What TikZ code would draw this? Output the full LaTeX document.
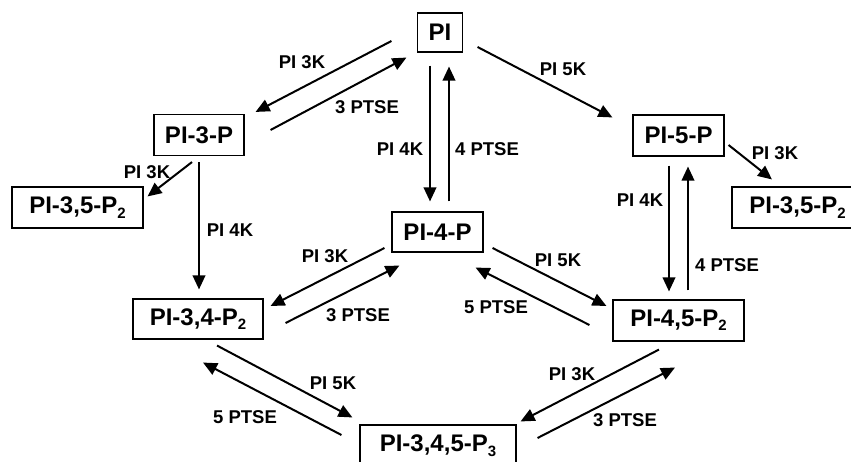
\documentclass[tikz,border=0pt]{standalone}
\usepackage{fontspec}
\setmainfont{Liberation Sans}
\usetikzlibrary{arrows.meta}

\newcommand{\sub}[1]{\raisebox{-0.35ex}{\fontsize{15}{15}\selectfont #1}}

\tikzset{
  lipid/.style={draw, line width=1.1pt, font=\fontsize{24}{26}\selectfont\bfseries,
    minimum height=41pt, inner sep=0pt},
  enz/.style={font=\fontsize{18.5}{20}\selectfont\bfseries, inner sep=1pt},
  rxn/.style={line width=2pt, -{Triangle[length=14pt,width=12.5pt]}},
}

\begin{document}
\begin{tikzpicture}[x=1pt, y=-1pt]
            \useasboundingbox (0,0) rectangle (851,462);
            % phosphoinositides
            \node[lipid, minimum width=45pt, minimum height=39pt] (pi) at (440,32.5) {PI};
            \node[lipid, minimum width=90pt] (pi3) at (199,135) {PI-3-P};
            \node[lipid, minimum width=91pt] (pi5) at (678.5,135.5) {PI-5-P};
            \node[lipid, minimum width=91pt, minimum height=40pt] (pi4) at (437.5,232) {PI-4-P};
            \node[lipid, minimum width=131pt] (pi35l) at (77.5,207.5) {PI-3,5-P\sub{2}};
            \node[lipid, minimum width=131pt] (pi35r) at (797.5,207.5) {PI-3,5-P\sub{2}};
            \node[lipid, minimum width=130pt, minimum height=40pt] (pi34) at (198,319) {PI-3,4-P\sub{2}};
            \node[lipid, minimum width=131pt] (pi45) at (678.5,320.5) {PI-4,5-P\sub{2}};
            \node[lipid, minimum width=156pt] (pi345) at (438,445.5) {PI-3,4,5-P\sub{3}};
            % kinases and phosphatases
            \draw[rxn] ([shift={(-25.5,8.5)}]pi.west) -- ([shift={(11,-2)}]pi3.north east);
            \draw[rxn] ([shift={(26,-5)}]pi3.east) -- ([shift={(-10.5,5)}]pi.south west);
            \draw[rxn] ([shift={(-10,13)}]pi.south) -- ([shift={(-7.5,-10)}]pi4.north);
            \draw[rxn] ([shift={(11.5,-10)}]pi4.north) -- ([shift={(9,14)}]pi.south);
            \draw[rxn] ([shift={(14.5,14.5)}]pi.east) -- ([shift={(-20,3)}]pi5.north west);
            \draw[rxn] ([shift={(-7,6)}]pi3.south) -- ([shift={(4,10)}]pi35l.north east);
            \draw[rxn] ([shift={(0,6)}]pi3.south) -- ([shift={(1,-9)}]pi34.north);
            \draw[rxn] ([shift={(4,9.5)}]pi5.east) -- ([shift={(-25.5,-7)}]pi35r.north);
            \draw[rxn] ([shift={(-9.5,9)}]pi5.south) -- ([shift={(-9.5,-8)}]pi45.north);
            \draw[rxn] ([shift={(9.5,-9)}]pi45.north) -- ([shift={(9.5,10)}]pi5.south);
            \draw[rxn] ([shift={(-7,16)}]pi4.west) -- ([shift={(7,-13)}]pi34.east);
            \draw[rxn] ([shift={(22,4)}]pi34.east) -- ([shift={(8,13)}]pi4.south west);
            \draw[rxn] ([shift={(9,16)}]pi4.east) -- ([shift={(-6,-14.5)}]pi45.west);
            \draw[rxn] ([shift={(-23,4.5)}]pi45.west) -- ([shift={(-8,15)}]pi4.south east);
            \draw[rxn] ([shift={(19,6)}]pi34.south) -- ([shift={(-7,-7)}]pi345.north west);
            \draw[rxn] ([shift={(-18,-10.5)}]pi345.west) -- ([shift={(5,23)}]pi34.south);
            \draw[rxn] ([shift={(-19.5,8)}]pi45.south) -- ([shift={(4,-3)}]pi345.north east);
            \draw[rxn] ([shift={(21,-7.5)}]pi345.east) -- ([shift={(-3.5,26)}]pi45.south);
            % labels
            \node[enz] (k3a) at (302,62) {PI 3K};
            \node[enz] (p3a) at (367,107) {3 PTSE};
            \node[enz] (k4a) at (400,149) {PI 4K};
            \node[enz] (p4a) at (487,149) {4 PTSE};
            \node[enz] (k5a) at (563,69) {PI 5K};
            \node[enz] (k3b) at (147,172) {PI 3K};
            \node[enz] (k4b) at (230,230) {PI 4K};
            \node[enz] (k3c) at (775,153) {PI 3K};
            \node[enz] (k4c) at (640,200) {PI 4K};
            \node[enz] (p4c) at (727,265) {4 PTSE};
            \node[enz] (k3d) at (325,256) {PI 3K};
            \node[enz] (p3d) at (358,315) {3 PTSE};
            \node[enz] (k5d) at (558,260) {PI 5K};
            \node[enz] (p5d) at (496,307) {5 PTSE};
            \node[enz] (k5e) at (333,383) {PI 5K};
            \node[enz] (p5e) at (245,417) {5 PTSE};
            \node[enz] (k3e) at (572,374) {PI 3K};
            \node[enz] (p3e) at (625,420) {3 PTSE};
        \end{tikzpicture}
\end{document}
